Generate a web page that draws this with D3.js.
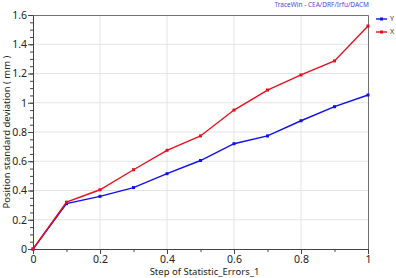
<!DOCTYPE html>
<html>
<head>
<meta charset="utf-8">
<script src="https://cdn.jsdelivr.net/npm/d3@7"></script>
<style>
  body { margin: 0; background: #fff; }
  text { font-family: "Noto Sans", "DejaVu Sans", sans-serif; }
</style>
</head>
<body>
<div id="chart"></div>
<script>
// values
var steps = [0, 0.1, 0.2, 0.3, 0.4, 0.5, 0.6, 0.7, 0.8, 0.9, 1];
var yValues = [0, 0.31, 0.36, 0.42, 0.515, 0.605, 0.72, 0.773, 0.877, 0.973, 1.053];
var xValues = [0, 0.32, 0.405, 0.542, 0.675, 0.773, 0.95, 1.087, 1.19, 1.286, 1.525];
var xTicks = [0, 0.2, 0.4, 0.6, 0.8, 1];
var yTicks = [0, 0.2, 0.4, 0.6, 0.8, 1, 1.2, 1.4, 1.6];
var seriesNames = ['Y', 'X'];
var seriesColors = ['#1010ee', '#e8101a'];

var W = 396, H = 278;
var padL = 33, padR = 368, padT = 15, padB = 249;

var svg = d3.select('#chart').append('svg')
    .attr('width', W)
    .attr('height', H);

var x = d3.scaleLinear().domain([0, 1]).range([padL, padR]);
var y = d3.scaleLinear().domain([0, 1.6]).range([padB, padT]);

// grid
svg.append('g').selectAll('line')
    .data(xTicks.slice(1, -1))
    .enter().append('line')
    .attr('x1', d => x(d)).attr('x2', d => x(d))
    .attr('y1', padT).attr('y2', padB)
    .attr('stroke', '#e4e4e4');
svg.append('g').selectAll('line')
    .data(yTicks.slice(1, -1))
    .enter().append('line')
    .attr('x1', padL).attr('x2', padR)
    .attr('y1', d => y(d)).attr('y2', d => y(d))
    .attr('stroke', '#e4e4e4');

// frame top / right
svg.append('path')
    .attr('d', 'M' + padL + ',' + (padT + 0.5) + 'H' + (padR + 0.5) + 'V' + padB)
    .attr('fill', 'none')
    .attr('stroke', '#707070');

// axes with minor ticks
var xMinor = d3.range(0, 1.0001, 0.1);
var yMinor = d3.range(0, 1.6001, 0.05);

var gx = svg.append('g').attr('transform', 'translate(0,' + padB + ')');
gx.append('g')
    .call(d3.axisBottom(x).tickValues(xMinor).tickSize(3).tickFormat(''))
    .call(g => g.select('.domain').remove());
gx.append('g')
    .call(d3.axisBottom(x).tickValues(xTicks).tickSize(5).tickSizeOuter(0)
        .tickFormat(d => d3.format('~g')(d)))
    .call(g => g.selectAll('text').attr('y', 7).style('font-size', '10.5px').attr('fill', '#222'));

var gy = svg.append('g').attr('transform', 'translate(' + padL + ',0)');
gy.append('g')
    .call(d3.axisLeft(y).tickValues(yMinor).tickSize(3).tickFormat(''))
    .call(g => g.select('.domain').remove());
gy.append('g')
    .call(d3.axisLeft(y).tickValues(yTicks).tickSize(5).tickSizeOuter(0)
        .tickFormat(d => d3.format('~g')(d)))
    .call(g => g.selectAll('text').attr('x', -6).style('font-size', '10.5px').attr('fill', '#222'));

svg.selectAll('.domain, .tick line').attr('stroke', '#444');

// axis titles
svg.append('text')
    .attr('x', (padL + padR) / 2 + 4)
    .attr('y', 275)
    .attr('text-anchor', 'middle')
    .style('font-size', '9.5px')
    .attr('fill', '#222')
    .text('Step of Statistic_Errors_1');

svg.append('text')
    .attr('transform', 'translate(10,' + ((padT + padB) / 2 + 0) + ') rotate(-90)')
    .attr('text-anchor', 'middle')
    .style('font-size', '9.5px')
    .attr('fill', '#222')
    .text('Position standard deviation ( mm )');

svg.append('text')
    .attr('x', padR + 1)
    .attr('y', 7)
    .attr('text-anchor', 'end')
    .style('font-size', '6.5px')
    .attr('fill', '#4a4ae0')
    .text('TraceWin - CEA/DRF/Irfu/DACM');

// series
var series = [yValues, xValues];
var line = d3.line()
    .x((d, i) => x(steps[i]))
    .y(d => y(d));

series.forEach(function (vals, k) {
    svg.append('path')
        .datum(vals)
        .attr('d', line)
        .attr('fill', 'none')
        .attr('stroke', seriesColors[k])
        .attr('stroke-width', 1.4);
    svg.append('g').selectAll('rect')
        .data(vals)
        .enter().append('rect')
        .attr('x', (d, i) => x(steps[i]) - 1.5)
        .attr('y', d => y(d) - 1.5)
        .attr('width', 3).attr('height', 3)
        .attr('fill', seriesColors[k]);
});

// legend
var leg = svg.append('g').selectAll('g')
    .data(seriesNames)
    .enter().append('g')
    .attr('transform', (d, i) => 'translate(376,' + (19 + i * 13) + ')');
leg.append('line')
    .attr('x1', 0).attr('x2', 11)
    .attr('stroke', (d, i) => seriesColors[i])
    .attr('stroke-width', 1.4);
leg.append('rect')
    .attr('x', 4).attr('y', -1.5).attr('width', 3).attr('height', 3)
    .attr('fill', (d, i) => seriesColors[i]);
leg.append('text')
    .attr('x', 14).attr('dy', '0.35em')
    .style('font-size', '7px')
    .attr('fill', '#333')
    .text(d => d);
</script>
</body>
</html>
